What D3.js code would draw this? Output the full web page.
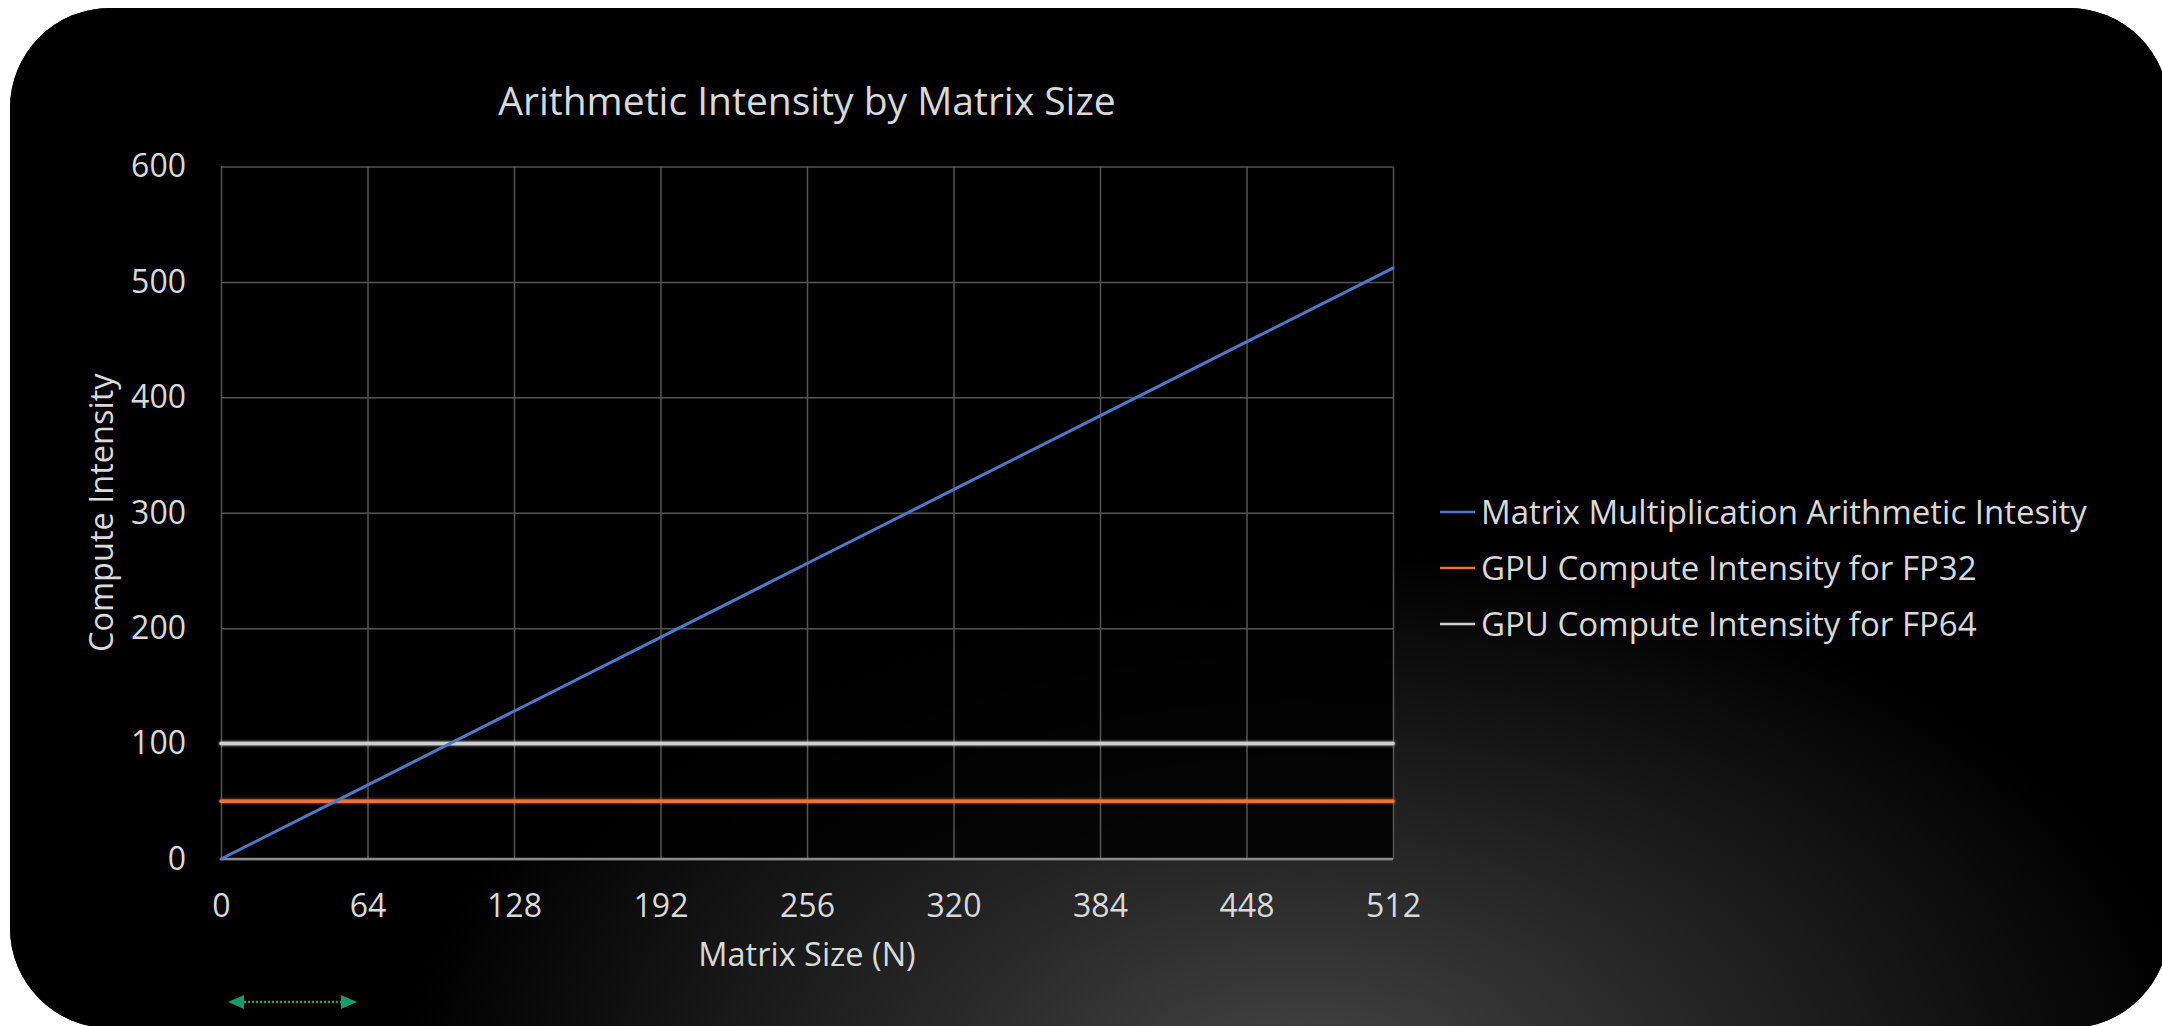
<!DOCTYPE html>
<html>
<head>
<meta charset="utf-8">
<script src="https://cdn.jsdelivr.net/npm/d3@7"></script>
<style>
  html, body { margin: 0; padding: 0; background: #fff; }
  svg { display: block; }
  text { font-family: "Open Sans", "Noto Sans", sans-serif; fill: #d9d9d9; }
</style>
</head>
<body>
<svg id="chart" width="2162" height="1026"></svg>
<script>
// Data
var matrixSizes = [0, 64, 128, 192, 256, 320, 384, 448, 512];
var mmIntensity = [0, 64, 128, 192, 256, 320, 384, 448, 512];
var fp32Intensity = [50, 50, 50, 50, 50, 50, 50, 50, 50];
var fp64Intensity = [100, 100, 100, 100, 100, 100, 100, 100, 100];
var xTicks = [0, 64, 128, 192, 256, 320, 384, 448, 512];
var yTicks = [0, 100, 200, 300, 400, 500, 600];
var seriesNames = ["Matrix Multiplication Arithmetic Intesity", "GPU Compute Intensity for FP32", "GPU Compute Intensity for FP64"];

var W = 2162, H = 1026;
var margin = { left: 221, right: 769, top: 166.5, bottom: 167 };
var plotW = W - margin.left - margin.right;
var plotH = H - margin.top - margin.bottom;

// Colors
var blue = "#4f78c8";
var orange = "#e8743a";
var lightGray = "#cfcfcf";
var gridGray = "#555555";
var green = "#1b9a6c";

var svg = d3.select("#chart");
var defs = svg.append("defs");

var glow = defs.append("radialGradient")
    .attr("id", "glow")
    .attr("gradientUnits", "userSpaceOnUse")
    .attr("cx", 1300).attr("cy", 1090).attr("r", 900)
    .attr("gradientTransform", "translate(0,436) scale(1,0.6)");
glow.append("stop").attr("offset", "0%").attr("stop-color", "#464646");
glow.append("stop").attr("offset", "45%").attr("stop-color", "#262626");
glow.append("stop").attr("offset", "100%").attr("stop-color", "#000000");

// glow for the flat lines; user space region so a zero-height bbox still renders
var lineGlow = defs.append("filter").attr("id", "lineGlow")
    .attr("filterUnits", "userSpaceOnUse")
    .attr("x", 0).attr("y", 0).attr("width", W).attr("height", H);
lineGlow.append("feGaussianBlur").attr("stdDeviation", 1.5).attr("result", "b");
var merge = lineGlow.append("feMerge");
merge.append("feMergeNode").attr("in", "b");
merge.append("feMergeNode").attr("in", "SourceGraphic");

// Rounded dark panel
svg.append("rect")
   .attr("x", 10).attr("y", 8)
   .attr("width", 2159).attr("height", 1020)
   .attr("rx", 100).attr("ry", 100)
   .style("fill", "#000");
svg.append("rect")
   .attr("x", 10).attr("y", 8)
   .attr("width", 2159).attr("height", 1020)
   .attr("rx", 100).attr("ry", 100)
   .style("fill", "url(#glow)");

// Scales
var xScale = d3.scaleLinear()
               .domain([0, 512])
               .range([margin.left, margin.left + plotW]);
var yScale = d3.scaleLinear()
               .domain([0, 600])
               .range([margin.top + plotH, margin.top]);

// Plot background
svg.append("rect")
   .attr("x", xScale(0)).attr("y", yScale(600))
   .attr("width", plotW).attr("height", plotH)
   .style("fill", "#000").style("opacity", 0.85);

// Gridlines
svg.append("g")
   .attr("class", "xgrid")
   .attr("transform", "translate(0," + yScale(0) + ")")
   .call(d3.axisBottom(xScale).tickValues(xTicks).tickSize(-plotH).tickFormat(""))
   .call(function(g) { g.select(".domain").remove(); })
   .selectAll("line").style("stroke", gridGray).style("stroke-width", 1.5);
svg.append("g")
   .attr("class", "ygrid")
   .attr("transform", "translate(" + xScale(0) + ",0)")
   .call(d3.axisLeft(yScale).tickValues(yTicks).tickSize(-plotW).tickFormat(""))
   .call(function(g) { g.select(".domain").remove(); })
   .selectAll("line").style("stroke", gridGray).style("stroke-width", 1.5);

// Axis line at zero
svg.append("line")
   .attr("x1", xScale(0)).attr("x2", xScale(512))
   .attr("y1", yScale(0)).attr("y2", yScale(0))
   .style("stroke", "#8c8c8c").style("stroke-width", 2.5);

// Tick labels
var xAxis = svg.append("g")
   .attr("transform", "translate(0," + (yScale(0) + 35) + ")")
   .call(d3.axisBottom(xScale).tickValues(xTicks).tickSize(0).tickPadding(0));
xAxis.select(".domain").remove();
xAxis.selectAll("text")
     .attr("dy", "0.71em")
     .style("font-size", "32px")
     .style("font-family", "'Open Sans', sans-serif")
     .style("fill", "#d9d9d9");

var yAxis = svg.append("g")
   .attr("transform", "translate(" + (xScale(0) - 35) + ",0)")
   .call(d3.axisLeft(yScale).tickValues(yTicks).tickSize(0).tickPadding(0));
yAxis.select(".domain").remove();
yAxis.selectAll("text")
     .style("font-size", "32px")
     .style("font-family", "'Open Sans', sans-serif")
     .style("fill", "#d9d9d9");

// Series
var rows = matrixSizes.map(function(n, i) {
  return { n: n, mm: mmIntensity[i], fp32: fp32Intensity[i], fp64: fp64Intensity[i] };
});
var series = [
  { key: "mm", color: blue, width: 3, glow: false },
  { key: "fp32", color: orange, width: 3.5, glow: true },
  { key: "fp64", color: lightGray, width: 3.5, glow: true }
];
var lineGen = function(key) {
  return d3.line()
           .x(function(d) { return xScale(d.n); })
           .y(function(d) { return yScale(d[key]); });
};
// draw flat ones first, blue on top
[series[2], series[1], series[0]].forEach(function(s) {
  svg.append("path")
     .datum(rows)
     .attr("class", "series-" + s.key)
     .attr("d", lineGen(s.key))
     .attr("filter", s.glow ? "url(#lineGlow)" : null)
     .style("fill", "none")
     .style("stroke", s.color)
     .style("stroke-width", s.width)
     .style("stroke-linecap", "round");
});

// Titles
svg.append("text")
   .text("Arithmetic Intensity by Matrix Size")
   .attr("x", (xScale(0) + xScale(512)) / 2)
   .attr("y", 115)
   .style("font-size", "39px")
   .style("text-anchor", "middle");
svg.append("text")
   .text("Matrix Size (N)")
   .attr("x", (xScale(0) + xScale(512)) / 2)
   .attr("y", 966)
   .style("font-size", "32.5px")
   .style("text-anchor", "middle");
svg.append("text")
   .text("Compute Intensity")
   .attr("transform", "translate(113," + ((yScale(0) + yScale(600)) / 2) + ") rotate(-90)")
   .style("font-size", "32.5px")
   .style("text-anchor", "middle");

// Legend
var legend = svg.append("g").attr("transform", "translate(1440,512)");
series.forEach(function(s, i) {
  var row = legend.append("g").attr("transform", "translate(0," + (i * 56) + ")");
  row.append("line")
     .attr("x1", 0).attr("x2", 35)
     .attr("y1", 0).attr("y2", 0)
     .style("stroke", s.color)
     .style("stroke-width", 2.5);
  row.append("text")
     .text(seriesNames[i])
     .attr("x", 41)
     .attr("y", 0)
     .attr("dy", "0.36em")
     .style("font-size", "33px");
});

// Green double arrow under the axis
var arrowY = 1002, ax1 = 228, ax2 = 357;
svg.append("line")
   .attr("x1", ax1 + 12).attr("x2", ax2 - 12)
   .attr("y1", arrowY).attr("y2", arrowY)
   .style("stroke", green).style("stroke-width", 2.5)
   .style("stroke-dasharray", "2,2");
svg.append("path")
   .attr("d", "M" + ax1 + "," + arrowY + "l16,-7l0,14z")
   .style("fill", green);
svg.append("path")
   .attr("d", "M" + ax2 + "," + arrowY + "l-16,-7l0,14z")
   .style("fill", green);
</script>
</body>
</html>
